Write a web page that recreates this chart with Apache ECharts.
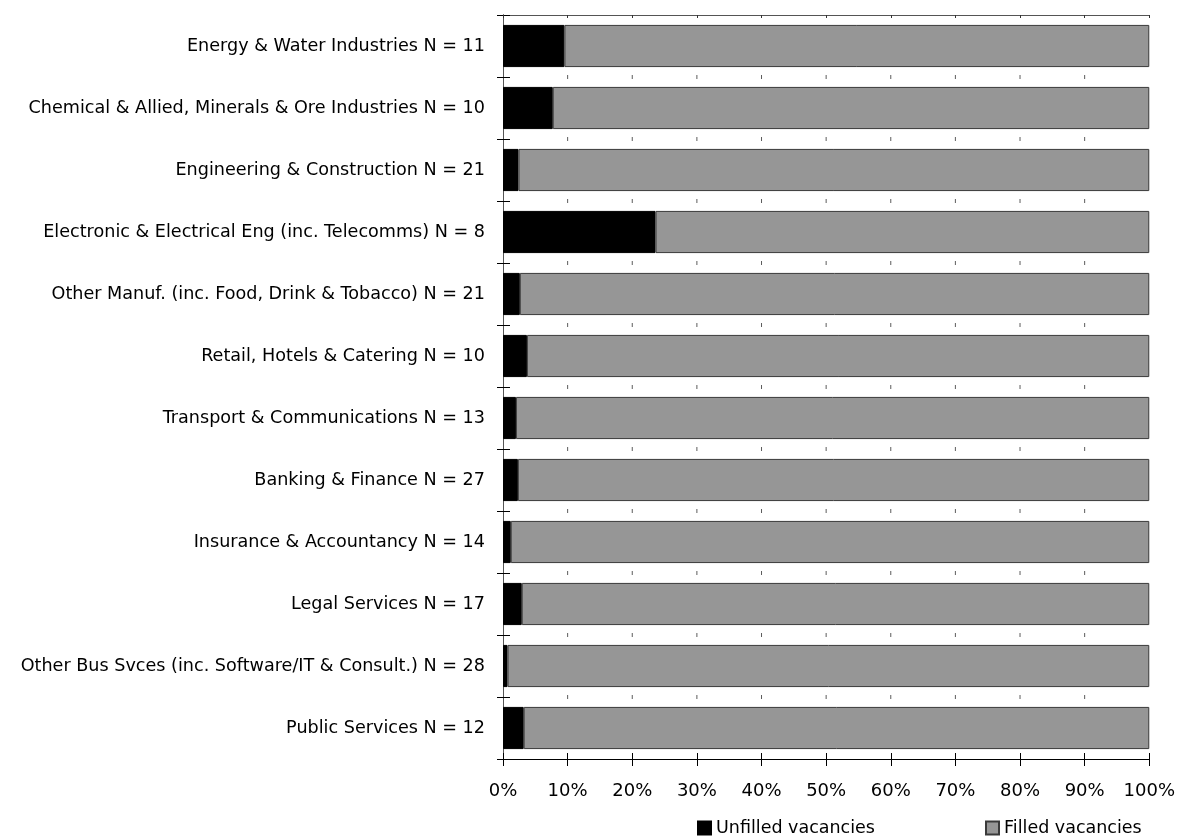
<!DOCTYPE html>
<html>
<head>
<meta charset="utf-8">
<title>Unfilled and filled vacancies by sector</title>
<script src="https://cdn.jsdelivr.net/npm/echarts@6/dist/echarts.min.js"></script>
<style>
  html, body { margin: 0; padding: 0; background: #ffffff; }
  #chart { width: 1178px; height: 836px; }
</style>
</head>
<body>
<div id="chart"></div>
<script>
// Sectors, top to bottom
const sectors = [
  'Energy & Water Industries N = 11',
  'Chemical & Allied, Minerals & Ore Industries N = 10',
  'Engineering & Construction N = 21',
  'Electronic & Electrical Eng (inc. Telecomms) N = 8',
  'Other Manuf. (inc. Food, Drink & Tobacco) N = 21',
  'Retail, Hotels & Catering N = 10',
  'Transport & Communications N = 13',
  'Banking & Finance N = 27',
  'Insurance & Accountancy N = 14',
  'Legal Services N = 17',
  'Other Bus Svces (inc. Software/IT & Consult.) N = 28',
  'Public Services N = 12'
];

// Share of vacancies (%)
const unfilled = [9.5, 7.7, 2.4, 23.6, 2.6, 3.7, 2.0, 2.3, 1.2, 2.9, 0.7, 3.2];
const filled   = [90.5, 92.3, 97.6, 76.4, 97.4, 96.3, 98.0, 97.7, 98.8, 97.1, 99.3, 96.8];

// Value axis ticks (%)
const pctTicks = [0, 10, 20, 30, 40, 50, 60, 70, 80, 90, 100];

const seriesNames = ['Unfilled vacancies', 'Filled vacancies'];

// Short tick marks on every category boundary at each inner 10% step
const boundaryTicks = [];
for (let b = 1; b < sectors.length; b++) {
  pctTicks.slice(1, -1).forEach(function (p) { boundaryTicks.push([p, b]); });
}

const FONT = 'DejaVu Sans';
const chart = echarts.init(document.getElementById('chart'), null, { renderer: 'canvas' });

const grid = { left: 503, right: 28, top: 15, bottom: 77, containLabel: false };

const legendText = { fontFamily: FONT, fontSize: 17.5, color: '#000' };

chart.setOption({
  animation: false,
  backgroundColor: '#ffffff',
  textStyle: { fontFamily: FONT, color: '#000' },
  grid: grid,
  legend: [
    {
      data: [seriesNames[0]],
      left: 697, top: 819, padding: 0,
      itemWidth: 13, itemHeight: 13, itemGap: 0,
      icon: 'rect',
      textStyle: legendText
    },
    {
      data: [seriesNames[1]],
      left: 985, top: 819, padding: 0,
      itemWidth: 13, itemHeight: 13, itemGap: 0,
      icon: 'rect',
      textStyle: legendText
    }
  ],
  xAxis: [
    {
      type: 'value', min: 0, max: 100, interval: 10, position: 'bottom',
      axisLine: { show: true, lineStyle: { color: '#000', width: 1 } },
      axisTick: { show: true, length: 7, lineStyle: { color: '#000' } },
      axisLabel: {
        margin: 23, fontSize: 18, color: '#000', fontFamily: FONT,
        formatter: function (v) { return v + '%'; }
      },
      splitLine: { show: false }
    },
    {
      // inner half of the crossing ticks on the bottom axis
      type: 'value', min: 0, max: 100, interval: 10, position: 'bottom',
      axisLine: { show: false },
      axisTick: { show: true, inside: true, length: 6, lineStyle: { color: '#000' } },
      axisLabel: { show: false },
      splitLine: { show: false }
    },
    {
      // frame line along the top edge
      type: 'value', min: 0, max: 100, interval: 10, position: 'top',
      axisLine: { show: true, lineStyle: { color: '#555', width: 1 } },
      axisTick: { show: true, inside: true, length: 3, lineStyle: { color: '#333' } },
      axisLabel: { show: false },
      splitLine: { show: false }
    }
  ],
  yAxis: [
    {
      type: 'category', data: sectors, inverse: true, position: 'left',
      axisLine: { show: true, lineStyle: { color: '#000', width: 1 } },
      axisTick: { show: true, length: 6, lineStyle: { color: '#000' } },
      axisLabel: { margin: 18, fontSize: 17.6, color: '#000', fontFamily: FONT },
      splitLine: { show: false }
    },
    {
      // inner half of the crossing ticks on the category axis
      type: 'category', data: sectors, inverse: true, position: 'left',
      axisLine: { show: false },
      axisTick: { show: true, inside: true, length: 7, lineStyle: { color: '#000' } },
      axisLabel: { show: false },
      splitLine: { show: false }
    },
    {
      // frame line along the right edge, also hosts the boundary ticks
      type: 'value', min: 0, max: sectors.length, position: 'right',
      axisLine: { show: true, lineStyle: { color: '#555', width: 1 } },
      axisTick: { show: false },
      axisLabel: { show: false },
      splitLine: { show: false }
    }
  ],
  series: [
    {
      name: seriesNames[0], type: 'bar', stack: 'share',
      xAxisIndex: 0, yAxisIndex: 0,
      barCategoryGap: '32%',
      data: unfilled,
      itemStyle: { color: '#000000', borderColor: '#000000', borderWidth: 1 },
      emphasis: { disabled: true }
    },
    {
      name: seriesNames[1], type: 'bar', stack: 'share',
      xAxisIndex: 0, yAxisIndex: 0,
      barCategoryGap: '32%',
      data: filled,
      itemStyle: { color: '#969696', borderColor: '#3a3a3a', borderWidth: 1 },
      emphasis: { disabled: true }
    },
    {
      name: 'boundary ticks', type: 'scatter',
      xAxisIndex: 0, yAxisIndex: 2,
      data: boundaryTicks,
      symbol: 'rect', symbolSize: [1, 4],
      itemStyle: { color: '#333' },
      silent: true, z: 1
    }
  ]
});
</script>
</body>
</html>
